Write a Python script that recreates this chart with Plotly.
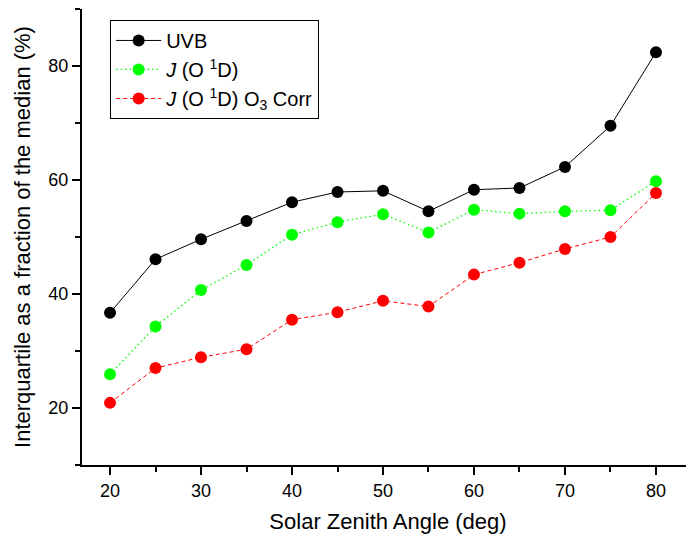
import plotly.graph_objects as go

sza = [20, 25, 30, 35, 40, 45, 50, 55, 60, 65, 70, 75, 80]
uvb = [36.7, 46.1, 49.6, 52.8, 56.1, 57.9, 58.1, 54.5, 58.3, 58.6, 62.3, 69.5, 82.4]
jo1d = [25.9, 34.3, 40.7, 45.1, 50.4, 52.6, 54.0, 50.8, 54.8, 54.1, 54.5, 54.7, 59.8]
jo1d_corr = [20.9, 27.0, 28.9, 30.3, 35.5, 36.8, 38.8, 37.8, 43.4, 45.5, 47.9, 50.0, 57.7]

font = "Liberation Sans, Arial, sans-serif"

fig = go.Figure()
fig.add_trace(go.Scatter(x=sza, y=uvb, mode="lines+markers", name="UVB",
                         line=dict(color="black", width=1, dash="solid"),
                         marker=dict(color="black", size=12)))
fig.add_trace(go.Scatter(x=sza, y=jo1d, mode="lines+markers", name="<i>J</i> (O <sup>1</sup>D)",
                         line=dict(color="#00ff00", width=1.3, dash="1.5px,3px"),
                         marker=dict(color="#00ff00", size=12)))
fig.add_trace(go.Scatter(x=sza, y=jo1d_corr, mode="lines+markers",
                         name="<i>J</i> (O <sup>1</sup>D) O<sub>3</sub> Corr",
                         line=dict(color="#ff0000", width=1, dash="4px,3px"),
                         marker=dict(color="#ff0000", size=12)))

fig.update_layout(
    width=686, height=529,
    margin=dict(l=74, r=0, t=1, b=72),
    paper_bgcolor="white", plot_bgcolor="white",
    font=dict(family=font, size=18, color="black"),
    showlegend=True,
    legend=dict(x=0.046, y=0.976, xanchor="left", yanchor="top",
                bordercolor="black", borderwidth=1, bgcolor="white",
                font=dict(size=20, family=font), tracegroupgap=0,
                itemwidth=45),
)
fig.update_xaxes(range=[16.92, 84.18], showline=True, linecolor="black", linewidth=2,
                 automargin=False,
                 ticks="outside", ticklen=8, tickwidth=1.5, tickcolor="black",
                 tick0=20, dtick=10, showgrid=False, zeroline=False,
                 minor=dict(ticks="outside", ticklen=5, tickwidth=1.5, tickcolor="black", dtick=5, tick0=20, showgrid=False),
                 title=dict(text="Solar Zenith Angle (deg)", font=dict(size=22, family=font), standoff=14),
                 tickfont=dict(size=18))
fig.update_yaxes(range=[10, 90], showline=True, linecolor="black", linewidth=2,
                 automargin=False,
                 ticks="outside", ticklen=8, tickwidth=1.5, tickcolor="black",
                 tick0=20, dtick=20, showgrid=False, zeroline=False,
                 minor=dict(ticks="outside", ticklen=5, tickwidth=1.5, tickcolor="black", dtick=10, tick0=10, showgrid=False),
                 title=dict(text="Interquartile as a fraction of the median (%)", font=dict(size=22, family=font), standoff=12),
                 tickfont=dict(size=18))

fig.write_html("out.html")
